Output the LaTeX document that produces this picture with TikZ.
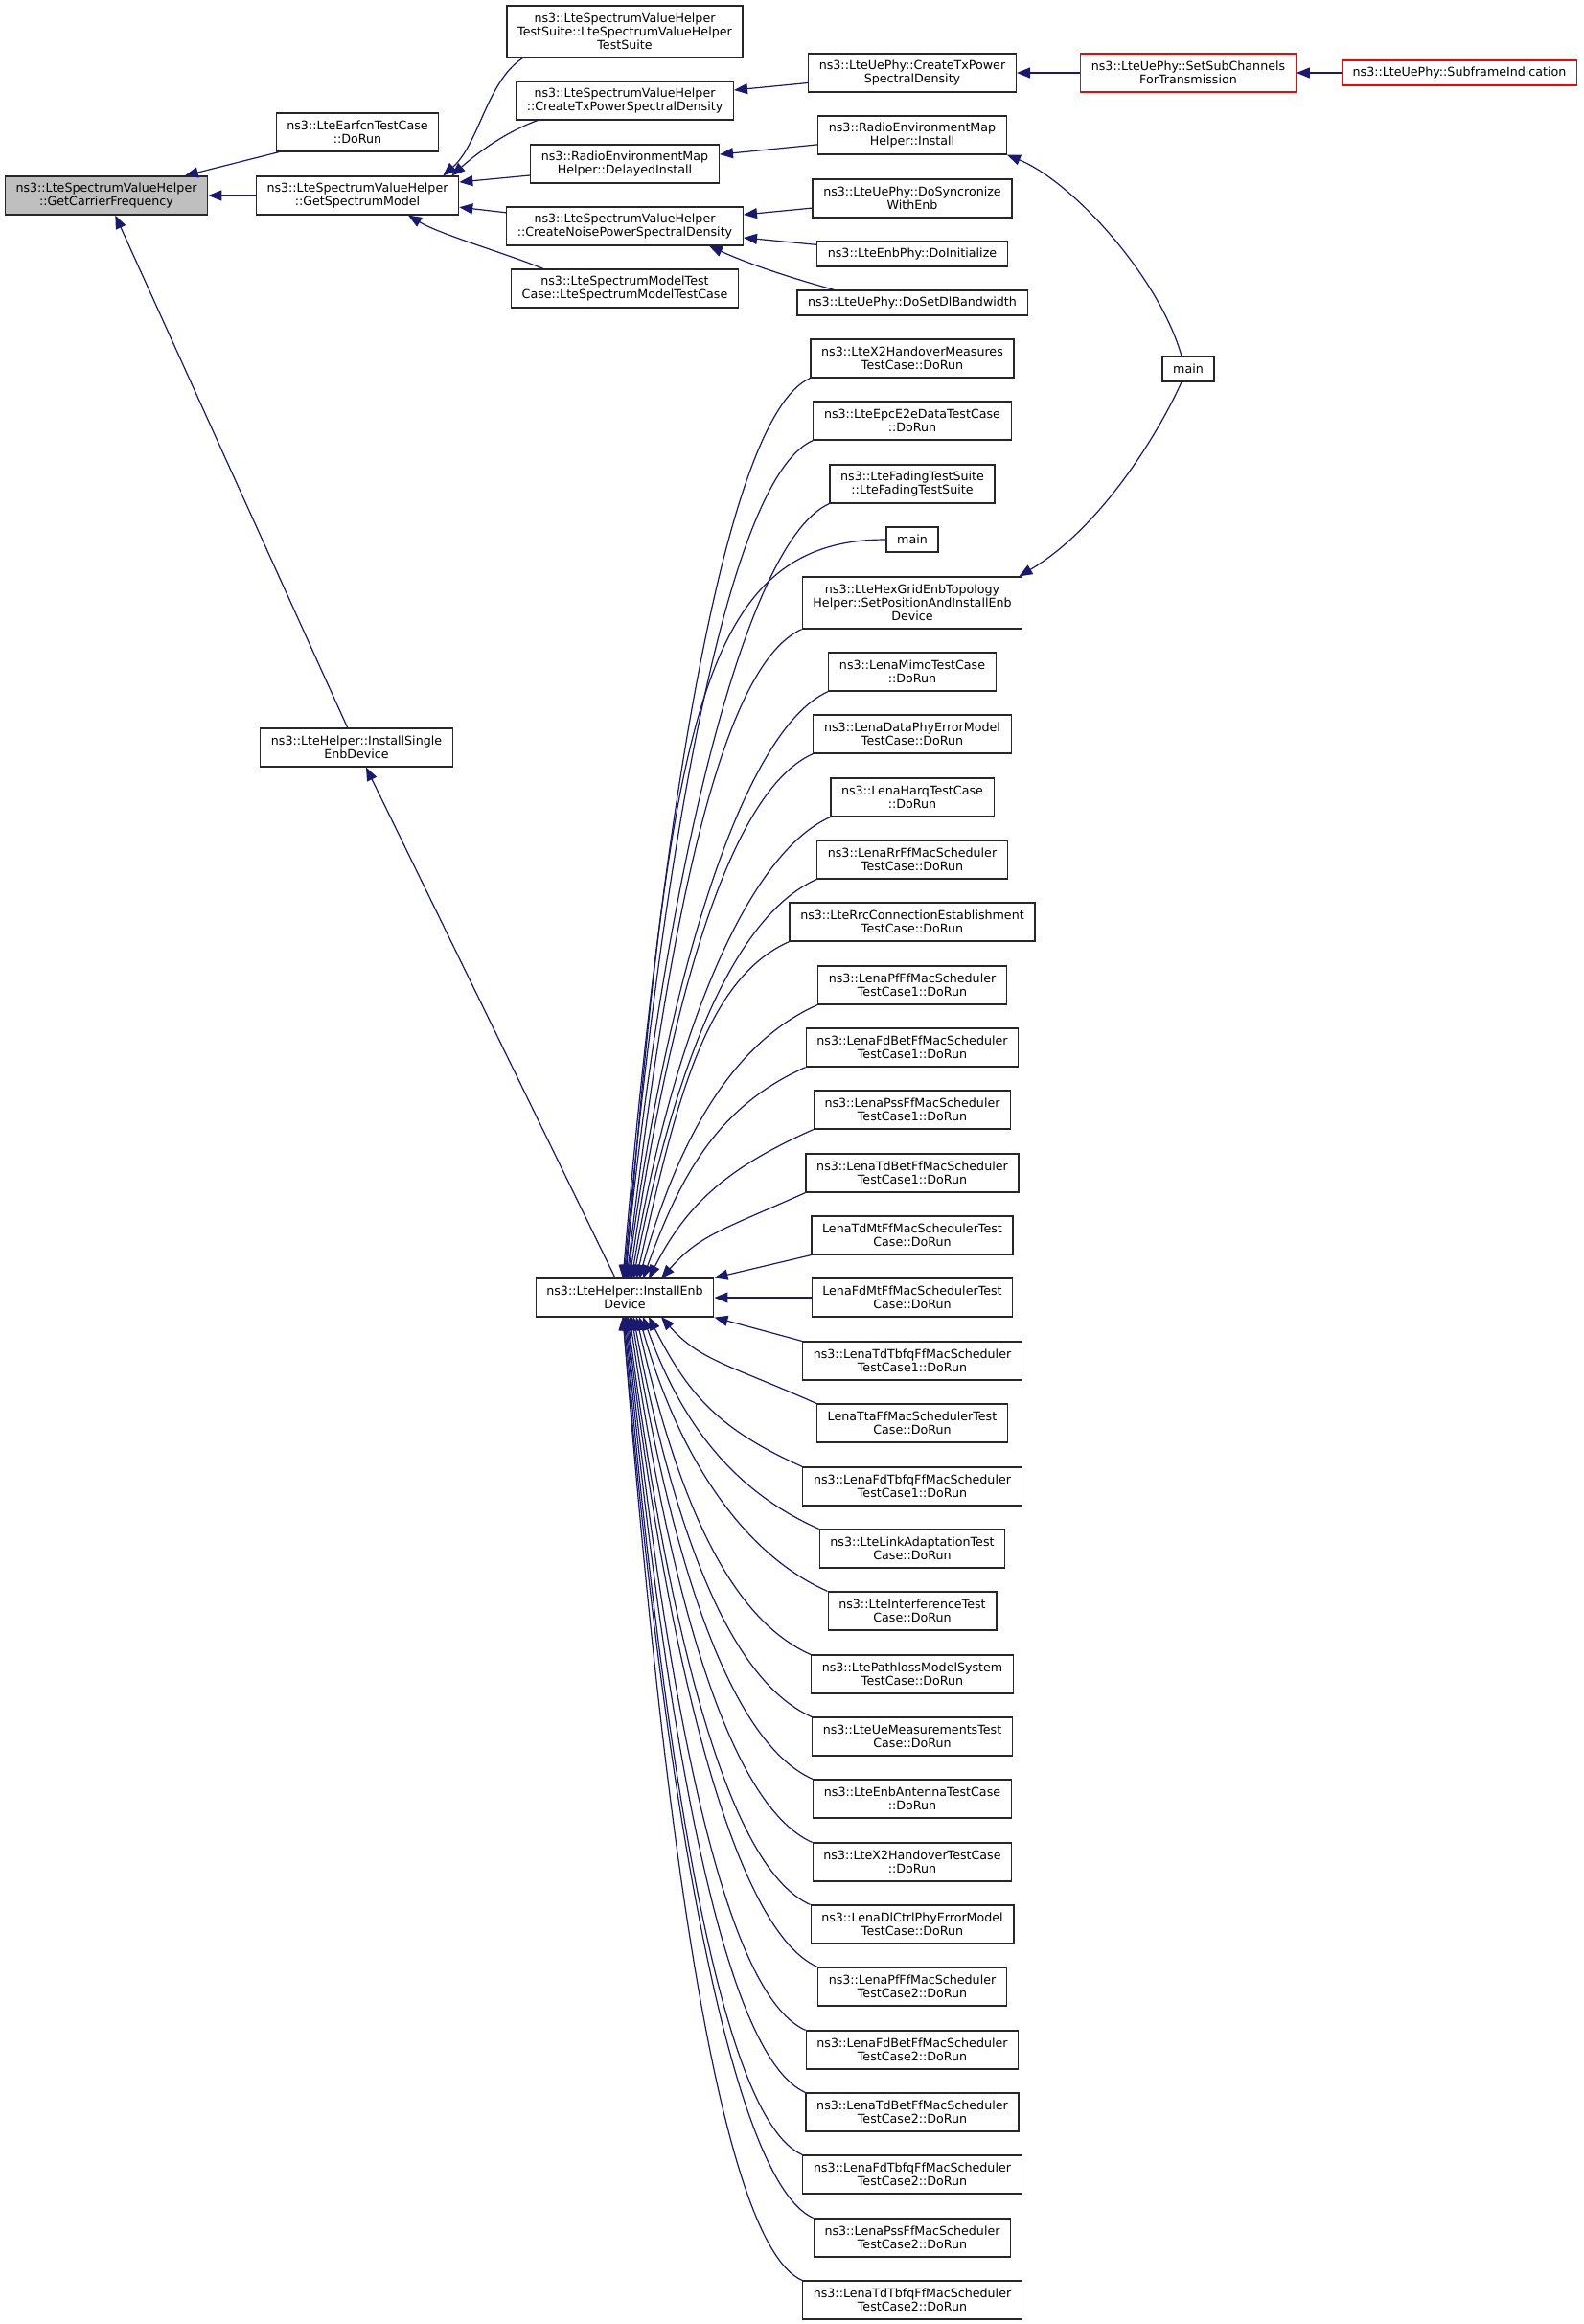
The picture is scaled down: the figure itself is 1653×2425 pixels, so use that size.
\documentclass[tikz,border=0pt]{standalone}
\usepackage{fontspec}
\setmainfont{DejaVu Sans}
\usetikzlibrary{arrows.meta,calc}
\definecolor{edgeblue}{RGB}{25,25,112}
\tikzset{
  fnbox/.style={draw=black!85,line width=0.6pt,fill=white,align=center,
    inner xsep=5.6pt,inner ysep=1pt,minimum height=20pt,
    font=\fontsize{6.33pt}{7pt}\selectfont},
  oneline/.style={minimum height=13pt},
  threeline/.style={minimum height=27pt},
  fnroot/.style={fnbox,fill=black!25},
  fntrunc/.style={fnbox,draw=red},
  calledge/.style={draw=edgeblue,line width=0.6pt}
}
\begin{document}
\begin{tikzpicture}[x=0.5pt,y=-0.5pt,>={Triangle[length=7pt,width=5.5pt]}]
    \path[use as bounding box,fill=white] (0,0) rectangle (1653,2425);
    %% GetCarrierFrequency and its direct callers
    \node[fnroot] (gcf) at (111,204) {ns3::LteSpectrumValueHelper\\::GetCarrierFrequency};
    \node[fnbox] (earfcn) at (373,138) {ns3::LteEarfcnTestCase\\::DoRun};
    \node[fnbox] (gsm) at (373,204) {ns3::LteSpectrumValueHelper\\::GetSpectrumModel};
    \node[fnbox] (isd) at (372,780) {ns3::LteHelper::InstallSingle\\EnbDevice};
    %% Callers of GetSpectrumModel
    \node[fnbox,threeline] (vhsuite) at (652,33) {ns3::LteSpectrumValueHelper\\TestSuite::LteSpectrumValueHelper\\TestSuite};
    \node[fnbox] (vhtx) at (652,105) {ns3::LteSpectrumValueHelper\\::CreateTxPowerSpectralDensity};
    \node[fnbox] (remdi) at (652,171) {ns3::RadioEnvironmentMap\\Helper::DelayedInstall};
    \node[fnbox] (vhnoise) at (652,236) {ns3::LteSpectrumValueHelper\\::CreateNoisePowerSpectralDensity};
    \node[fnbox] (smtc) at (652,301) {ns3::LteSpectrumModelTest\\Case::LteSpectrumModelTestCase};
    \node[fnbox] (ied) at (652,1354) {ns3::LteHelper::InstallEnb\\Device};
    %% Next rank
    \node[fnbox] (uptx) at (952,76) {ns3::LteUePhy::CreateTxPower\\SpectralDensity};
    \node[fnbox] (remin) at (952,141) {ns3::RadioEnvironmentMap\\Helper::Install};
    \node[fnbox] (upsync) at (952,207) {ns3::LteUePhy::DoSyncronize\\WithEnb};
    \node[fnbox,oneline] (epinit) at (952,265) {ns3::LteEnbPhy::DoInitialize};
    \node[fnbox,oneline] (updl) at (952,316) {ns3::LteUePhy::DoSetDlBandwidth};
    \node[fntrunc] (subch) at (1240,76) {ns3::LteUePhy::SetSubChannels\\ForTransmission};
    \node[fntrunc,oneline] (subfr) at (1523,76) {ns3::LteUePhy::SubframeIndication};
    \node[fnbox,oneline] (mainr) at (1240,385) {main};
    %% Callers of InstallEnbDevice
    \node[fnbox] (x2m) at (952,374) {ns3::LteX2HandoverMeasures\\TestCase::DoRun};
    \node[fnbox] (epc) at (952,439) {ns3::LteEpcE2eDataTestCase\\::DoRun};
    \node[fnbox] (fad) at (952,505) {ns3::LteFadingTestSuite\\::LteFadingTestSuite};
    \node[fnbox,oneline] (mainc) at (952,563) {main};
    \node[fnbox,threeline] (hexg) at (952,629) {ns3::LteHexGridEnbTopology\\Helper::SetPositionAndInstallEnb\\Device};
    \node[fnbox] (mimo) at (952,701) {ns3::LenaMimoTestCase\\::DoRun};
    \node[fnbox] (dphy) at (952,766) {ns3::LenaDataPhyErrorModel\\TestCase::DoRun};
    \node[fnbox] (harq) at (952,832) {ns3::LenaHarqTestCase\\::DoRun};
    \node[fnbox] (rrff) at (952,897) {ns3::LenaRrFfMacScheduler\\TestCase::DoRun};
    \node[fnbox] (rrc) at (952,962) {ns3::LteRrcConnectionEstablishment\\TestCase::DoRun};
    \node[fnbox] (pf1) at (952,1028) {ns3::LenaPfFfMacScheduler\\TestCase1::DoRun};
    \node[fnbox] (fdb1) at (952,1093) {ns3::LenaFdBetFfMacScheduler\\TestCase1::DoRun};
    \node[fnbox] (pss1) at (952,1158) {ns3::LenaPssFfMacScheduler\\TestCase1::DoRun};
    \node[fnbox] (tdb1) at (952,1224) {ns3::LenaTdBetFfMacScheduler\\TestCase1::DoRun};
    \node[fnbox] (tdmt) at (952,1289) {LenaTdMtFfMacSchedulerTest\\Case::DoRun};
    \node[fnbox] (fdmt) at (952,1354) {LenaFdMtFfMacSchedulerTest\\Case::DoRun};
    \node[fnbox] (tdtq1) at (952,1420) {ns3::LenaTdTbfqFfMacScheduler\\TestCase1::DoRun};
    \node[fnbox] (tta) at (952,1485) {LenaTtaFfMacSchedulerTest\\Case::DoRun};
    \node[fnbox] (fdtq1) at (952,1551) {ns3::LenaFdTbfqFfMacScheduler\\TestCase1::DoRun};
    \node[fnbox] (linkad) at (952,1616) {ns3::LteLinkAdaptationTest\\Case::DoRun};
    \node[fnbox] (intf) at (952,1681) {ns3::LteInterferenceTest\\Case::DoRun};
    \node[fnbox] (plm) at (952,1747) {ns3::LtePathlossModelSystem\\TestCase::DoRun};
    \node[fnbox] (uemeas) at (952,1812) {ns3::LteUeMeasurementsTest\\Case::DoRun};
    \node[fnbox] (enbant) at (952,1877) {ns3::LteEnbAntennaTestCase\\::DoRun};
    \node[fnbox] (x2ho) at (952,1943) {ns3::LteX2HandoverTestCase\\::DoRun};
    \node[fnbox] (dlctrl) at (952,2008) {ns3::LenaDlCtrlPhyErrorModel\\TestCase::DoRun};
    \node[fnbox] (pf2) at (952,2073) {ns3::LenaPfFfMacScheduler\\TestCase2::DoRun};
    \node[fnbox] (fdb2) at (952,2139) {ns3::LenaFdBetFfMacScheduler\\TestCase2::DoRun};
    \node[fnbox] (tdb2) at (952,2204) {ns3::LenaTdBetFfMacScheduler\\TestCase2::DoRun};
    \node[fnbox] (fdtq2) at (952,2269) {ns3::LenaFdTbfqFfMacScheduler\\TestCase2::DoRun};
    \node[fnbox] (pss2) at (952,2335) {ns3::LenaPssFfMacScheduler\\TestCase2::DoRun};
    \node[fnbox] (tdtq2) at (952,2400) {ns3::LenaTdTbfqFfMacScheduler\\TestCase2::DoRun};
    %% Straight calls
    \draw[calledge,<-] (gcf) -- (gsm);
    \draw[calledge,<-] (gcf) -- (earfcn);
    \draw[calledge,<-] (gcf) -- (isd);
    \draw[calledge,<-] (isd) -- (ied);
    \draw[calledge,<-] ($(gsm.east)+(0,-14)$) -- ($(remdi.west)+(0,12)$);
    \draw[calledge,<-] (gsm) -- (vhnoise);
    \draw[calledge,<-] (vhtx) -- (uptx);
    \draw[calledge,<-] (uptx) -- (subch);
    \draw[calledge,<-] (subch) -- (subfr);
    \draw[calledge,<-] (remdi) -- (remin);
    \draw[calledge,<-] (vhnoise) -- (upsync);
    \draw[calledge,<-] (vhnoise) -- (epinit);
    %% Curved calls near the top
    \draw[calledge,<-] ($(gsm.north east)+(-17,0)$) .. controls (500,150) and (508,85) .. ($(vhsuite.south west)+(17,0)$);
    \draw[calledge,<-] ($(gsm.north east)+(-8,0)$) .. controls (492,165) and (522,140) .. ($(vhtx.south west)+(23,0)$);
    \draw[calledge,<-] ($(gsm.south)+(53,0)$) .. controls (460,245) and (530,265) .. ($(smtc.north west)+(34,0)$);
    \draw[calledge,<-] ($(vhnoise.south east)+(-36,0)$) .. controls (765,268) and (800,283) .. ($(updl.north west)+(39,0)$);
    \draw[calledge,<-] (remin.south east) .. controls (1120,190) and (1210,290) .. ($(mainr.north)+(-7,0)$);
    \draw[calledge,<-] ($(hexg.north east)+(-4,0)$) .. controls (1150,550) and (1210,450) .. ($(mainr.south)+(-7,0)$);
    %% Fan into InstallEnbDevice
    \foreach \n/\sy/\tx in {x2m/394/650,epc/459/651,fad/525/652,hexg/656/654,mimo/721/655,dphy/786/657,harq/852/659,rrff/917/661,rrc/982/664,pf1/1048/667,fdb1/1113/671,pss1/1178/677,tdb1/1244/690}
        \draw[calledge,<-] (\tx,1334) .. controls (\tx+40,{0.5*(1334+\sy)}) and ($(\n.south west)+(-90,40)$) .. (\n.south west);
    \draw[calledge,<-] (653,1334) .. controls (700,760) and (730,563) .. (mainc.west);
    \draw[calledge,<-] (ied.north east) -- (tdmt.south west);
    \draw[calledge,<-] (ied) -- (fdmt);
    \draw[calledge,<-] (ied.south east) -- (tdtq1.north west);
    \foreach \n/\sy/\tx in {tta/1465/690,fdtq1/1531/677,linkad/1596/671,intf/1661/667,plm/1727/664,uemeas/1792/661,enbant/1857/659,x2ho/1923/657,dlctrl/1988/655,pf2/2053/654,fdb2/2119/653,tdb2/2184/652,fdtq2/2249/651,pss2/2315/650,tdtq2/2380/650}
        \draw[calledge,<-] (\tx,1374) .. controls (\tx+40,{0.5*(1374+\sy)}) and ($(\n.north west)+(-90,-40)$) .. (\n.north west);
\end{tikzpicture}
\end{document}
